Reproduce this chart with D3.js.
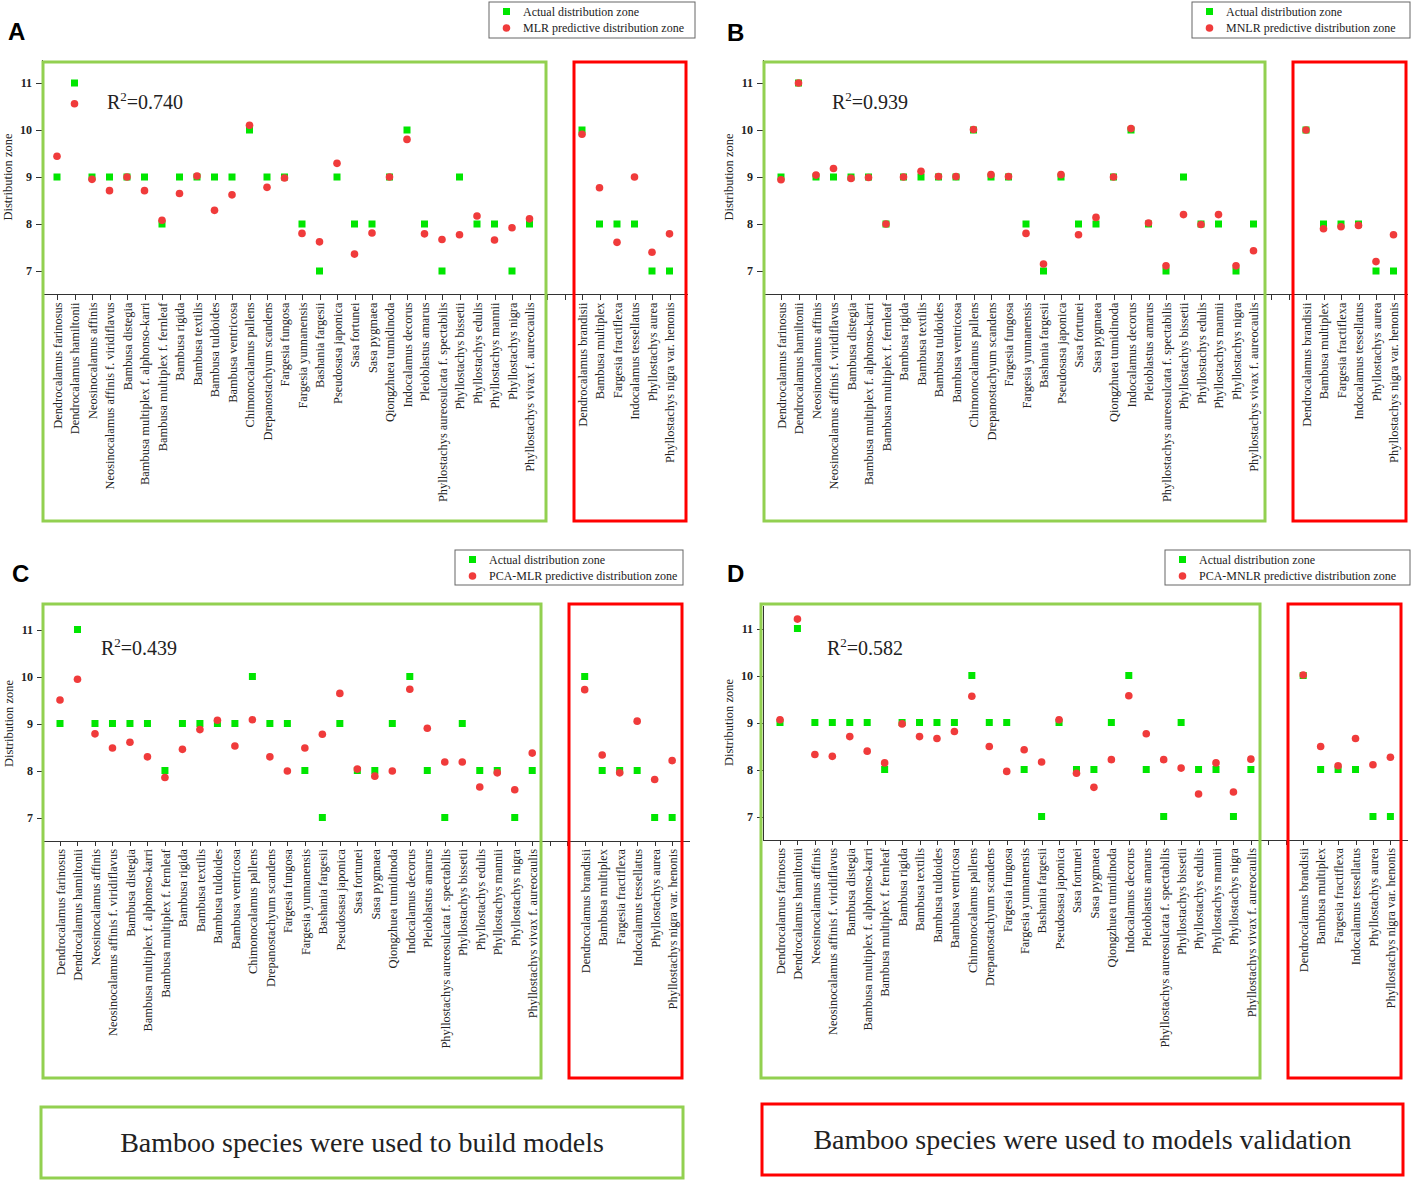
<!DOCTYPE html>
<html lang="en">
<head>
  <meta charset="utf-8">
  <title>Bamboo distribution zone models</title>
  <style>
    body { margin: 0; background: #fff; }
    svg text { font-family: "Liberation Serif", "Times New Roman", serif; fill: #222; }
    .axis path, .axis line { stroke: #333; stroke-width: 1; fill: none; shape-rendering: crispEdges; }
    .axis text { font-size: 12.4px; }
    svg text.letter { font-family: "Liberation Sans", Arial, sans-serif; font-weight: bold; font-size: 24px; fill: #000; }
  </style>
</head>
<body>
  <div id="chart"></div>

  <script src="https://d3js.org/d3.v7.min.js"></script>
  <script>
    // species used to build the models (28) and for validation (6)
    var buildSpecies = [
      "Dendrocalamus farinosus", "Dendrocalamus hamiltonii", "Neosinocalamus affinis",
      "Neosinocalamus affinis f. viridiflavus", "Bambusa distegia", "Bambusa multiplex f. alphonso-karri",
      "Bambusa multiplex f. fernleaf", "Bambusa rigida", "Bambusa textilis", "Bambusa tuldoides",
      "Bambusa ventricosa", "Chimonocalamus pallens", "Drepanostachyum scandens", "Fargesia fungosa",
      "Fargesia yunnanensis", "Bashania fargesii", "Pseudosasa japonica", "Sasa fortunei",
      "Sasa pygmaea", "Qiongzhuea tumidinoda", "Indocalamus decorus", "Pleioblastus amarus",
      "Phyllostachys aureosulcata f. spectabilis", "Phyllostachys bissetii", "Phyllostachys edulis",
      "Phyllostachys mannii", "Phyllostachys nigra", "Phyllostachys vivax f. aureocaulis"
    ];
    var validSpecies = [
      "Dendrocalamus brandisii", "Bambusa multiplex", "Fargesia fractiflexa",
      "Indocalamus tessellatus", "Phyllostachys aurea", "Phyllostachys nigra var. henonis"
    ];

    var actualBuild = [9, 11, 9, 9, 9, 9, 8, 9, 9, 9, 9, 10, 9, 9, 8, 7, 9, 8, 8, 9, 10, 8, 7, 9, 8, 8, 7, 8];
    var actualValid = [10, 8, 8, 8, 7, 7];

    var mlrBuild = [9.44, 10.56, 8.95, 8.71, 9.0, 8.71, 8.08, 8.65, 9.02, 8.29, 8.62, 10.1, 8.78, 8.98,
                    7.8, 7.62, 9.29, 7.36, 7.81, 9.0, 9.8, 7.79, 7.67, 7.77, 8.17, 7.66, 7.92, 8.11];
    var mlrValid = [9.91, 8.77, 7.61, 9.0, 7.4, 7.79];

    var mnlrBuild = [8.94, 11.0, 9.04, 9.18, 8.97, 8.99, 8.0, 9.0, 9.12, 9.01, 9.01, 10.01, 9.05, 9.01,
                     7.8, 7.15, 9.05, 7.77, 8.14, 9.0, 10.03, 8.02, 7.11, 8.2, 7.99, 8.2, 7.11, 7.43];
    var mnlrValid = [10.0, 7.9, 7.94, 7.97, 7.2, 7.77];

    var pcaMlrBuild = [9.5, 9.94, 8.78, 8.48, 8.6, 8.29, 7.85, 8.45, 8.87, 9.07, 8.52, 9.08, 8.29, 7.99,
                       8.48, 8.77, 9.64, 8.03, 7.88, 7.99, 9.73, 8.9, 8.18, 8.18, 7.65, 7.95, 7.59, 8.37];
    var pcaMlrValid = [9.72, 8.33, 7.95, 9.05, 7.81, 8.21];

    var pcaMnlrBuild = [9.06, 11.2, 8.32, 8.28, 8.7, 8.39, 8.14, 8.97, 8.7, 8.66, 8.81, 9.56, 8.49, 7.96,
                        8.42, 8.16, 9.06, 7.92, 7.62, 8.21, 9.57, 8.76, 8.21, 8.03, 7.48, 8.14, 7.52, 8.22];
    var pcaMnlrValid = [10.01, 8.49, 8.08, 8.66, 8.1, 8.26];

    var yTicks = [7, 8, 9, 10, 11];

    var GREEN = "#00e600", RED = "#f03b3b", BOX_GREEN = "#92d050", BOX_RED = "#ff0000";
    var SERIF = "'Liberation Serif', 'Times New Roman', serif";

    var svg = d3.select("#chart").append("svg")
      .attr("width", 1417)
      .attr("height", 1185);

    // slot index: build species 0..27, two empty slots, validation 30..35
    var slots = d3.range(36);
    function slotLabel(i) {
      if (i < 28) return buildSpecies[i];
      if (i >= 30) return validSpecies[i - 30];
      return "";
    }

    var panels = [
      { letter: "A", lx: 8, ly: 40, axisX: 42, x0: 57, step: 17.5, axisEnd: 688, bottom: 294.5,
        pred: mlrBuild, predV: mlrValid, r2: "0.740", r2x: 107, r2y: 109,
        green: [43, 62, 546, 521], red: [574, 62, 686, 521],
        legend: [489, 2, 206, 36], legendText: "MLR predictive distribution zone" },
      { letter: "B", lx: 727, ly: 41, axisX: 763, x0: 781, step: 17.5, axisEnd: 1408, bottom: 294.5,
        pred: mnlrBuild, predV: mnlrValid, r2: "0.939", r2x: 832, r2y: 109,
        green: [764, 62, 1265, 521], red: [1293, 62, 1406, 521],
        legend: [1192, 2, 218, 36], legendText: "MNLR predictive distribution zone" },
      { letter: "C", lx: 12, ly: 582, axisX: 43, x0: 60, step: 17.49, axisEnd: 690, bottom: 841,
        pred: pcaMlrBuild, predV: pcaMlrValid, r2: "0.439", r2x: 101, r2y: 655,
        green: [43, 604, 541, 1078], red: [569, 604, 682, 1078],
        legend: [455, 550, 228, 35], legendText: "PCA-MLR predictive distribution zone" },
      { letter: "D", lx: 727, ly: 582, axisX: 763, x0: 780, step: 17.44, axisEnd: 1408, bottom: 840,
        pred: pcaMnlrBuild, predV: pcaMnlrValid, r2: "0.582", r2x: 827, r2y: 655,
        green: [761, 604, 1260, 1078], red: [1288, 604, 1401, 1078],
        legend: [1165, 550, 245, 35], legendText: "PCA-MNLR predictive distribution zone" }
    ];

    panels.forEach(function(p) {
      var g = svg.append("g");

      var x = d3.scaleLinear().domain([0, 35]).range([p.x0, p.x0 + 35 * p.step]);
      var y = d3.scaleLinear().domain([6.5, 11.5]).range([p.bottom, p.bottom - 235]);

      // x axis
      var xAxis = g.append("g")
        .attr("class", "axis")
        .attr("transform", "translate(0," + p.bottom + ")")
        .call(d3.axisBottom(x).tickValues(slots).tickFormat(slotLabel).tickSize(5).tickSizeOuter(0))
        .attr("font-family", SERIF);
      xAxis.select(".domain").remove();
      xAxis.append("line")
        .attr("x1", p.axisX).attr("x2", p.axisEnd);
      xAxis.selectAll("text")
        .attr("transform", "rotate(-90)")
        .attr("x", -8)
        .attr("y", 0)
        .attr("dy", "0.35em")
        .style("text-anchor", "end");

      // y axis
      var yAxis = g.append("g")
        .attr("class", "axis")
        .attr("transform", "translate(" + p.axisX + ",0)")
        .call(d3.axisLeft(y).tickValues(yTicks).tickFormat(d3.format("d")).tickSize(6).tickSizeOuter(0))
        .attr("font-family", SERIF);
      yAxis.selectAll("text").attr("x", -10).style("font-weight", "bold").style("font-size", "12px");

      g.append("text")
        .attr("transform", "translate(" + (p.axisX - 30) + "," + (y(9)) + ") rotate(-90)")
        .style("text-anchor", "middle")
        .style("font-size", "12.5px")
        .text("Distribution zone");

      var actual = actualBuild.map(function(v, i) { return { i: i, v: v }; })
        .concat(actualValid.map(function(v, j) { return { i: 30 + j, v: v }; }));
      var pred = p.pred.map(function(v, i) { return { i: i, v: v }; })
        .concat(p.predV.map(function(v, j) { return { i: 30 + j, v: v }; }));

      g.selectAll(".act").data(actual).enter().append("rect")
        .attr("class", "act")
        .attr("x", function(d) { return x(d.i) - 3.5; })
        .attr("y", function(d) { return y(d.v) - 3.5; })
        .attr("width", 7).attr("height", 7)
        .attr("fill", GREEN);

      g.selectAll(".pred").data(pred).enter().append("circle")
        .attr("class", "pred")
        .attr("cx", function(d) { return x(d.i); })
        .attr("cy", function(d) { return y(d.v); })
        .attr("r", 3.8)
        .attr("fill", RED);

      // R squared
      var r2 = g.append("text")
        .attr("x", p.r2x).attr("y", p.r2y)
        .style("font-size", "20px");
      r2.append("tspan").text("R");
      r2.append("tspan").attr("dy", -8).style("font-size", "13px").text("2");
      r2.append("tspan").attr("dy", 8).text("=" + p.r2);

      // group boxes
      g.append("rect")
        .attr("x", p.green[0]).attr("y", p.green[1])
        .attr("width", p.green[2] - p.green[0]).attr("height", p.green[3] - p.green[1])
        .attr("fill", "none").attr("stroke", BOX_GREEN).attr("stroke-width", 3);
      g.append("rect")
        .attr("x", p.red[0]).attr("y", p.red[1])
        .attr("width", p.red[2] - p.red[0]).attr("height", p.red[3] - p.red[1])
        .attr("fill", "none").attr("stroke", BOX_RED).attr("stroke-width", 3);

      // legend
      var lg = g.append("g").attr("transform", "translate(" + p.legend[0] + "," + p.legend[1] + ")");
      lg.append("rect")
        .attr("width", p.legend[2]).attr("height", p.legend[3])
        .attr("fill", "#fff").attr("stroke", "#666").attr("stroke-width", 1);
      lg.append("rect").attr("x", 14).attr("y", 6).attr("width", 7).attr("height", 7).attr("fill", GREEN);
      lg.append("circle").attr("cx", 17.5).attr("cy", 26).attr("r", 3.8).attr("fill", RED);
      lg.append("text").attr("x", 34).attr("y", 14).style("font-size", "12px").text("Actual distribution zone");
      lg.append("text").attr("x", 34).attr("y", 30).style("font-size", "12px").text(p.legendText);

      g.append("text")
        .attr("class", "letter")
        .attr("x", p.lx).attr("y", p.ly)
        .text(p.letter);
    });

    // bottom captions
    var captions = [
      { x: 41, y: 1107, w: 642, h: 71, color: BOX_GREEN, text: "Bamboo species were used to build models" },
      { x: 762, y: 1104, w: 641, h: 71, color: BOX_RED, text: "Bamboo species were used to models validation" }
    ];
    captions.forEach(function(c) {
      svg.append("rect")
        .attr("x", c.x).attr("y", c.y).attr("width", c.w).attr("height", c.h)
        .attr("fill", "none").attr("stroke", c.color).attr("stroke-width", 3);
      svg.append("text")
        .attr("x", c.x + c.w / 2).attr("y", c.y + c.h / 2 + 9)
        .style("text-anchor", "middle")
        .style("font-size", "28px")
        .text(c.text);
    });
  </script>
</body>
</html>
